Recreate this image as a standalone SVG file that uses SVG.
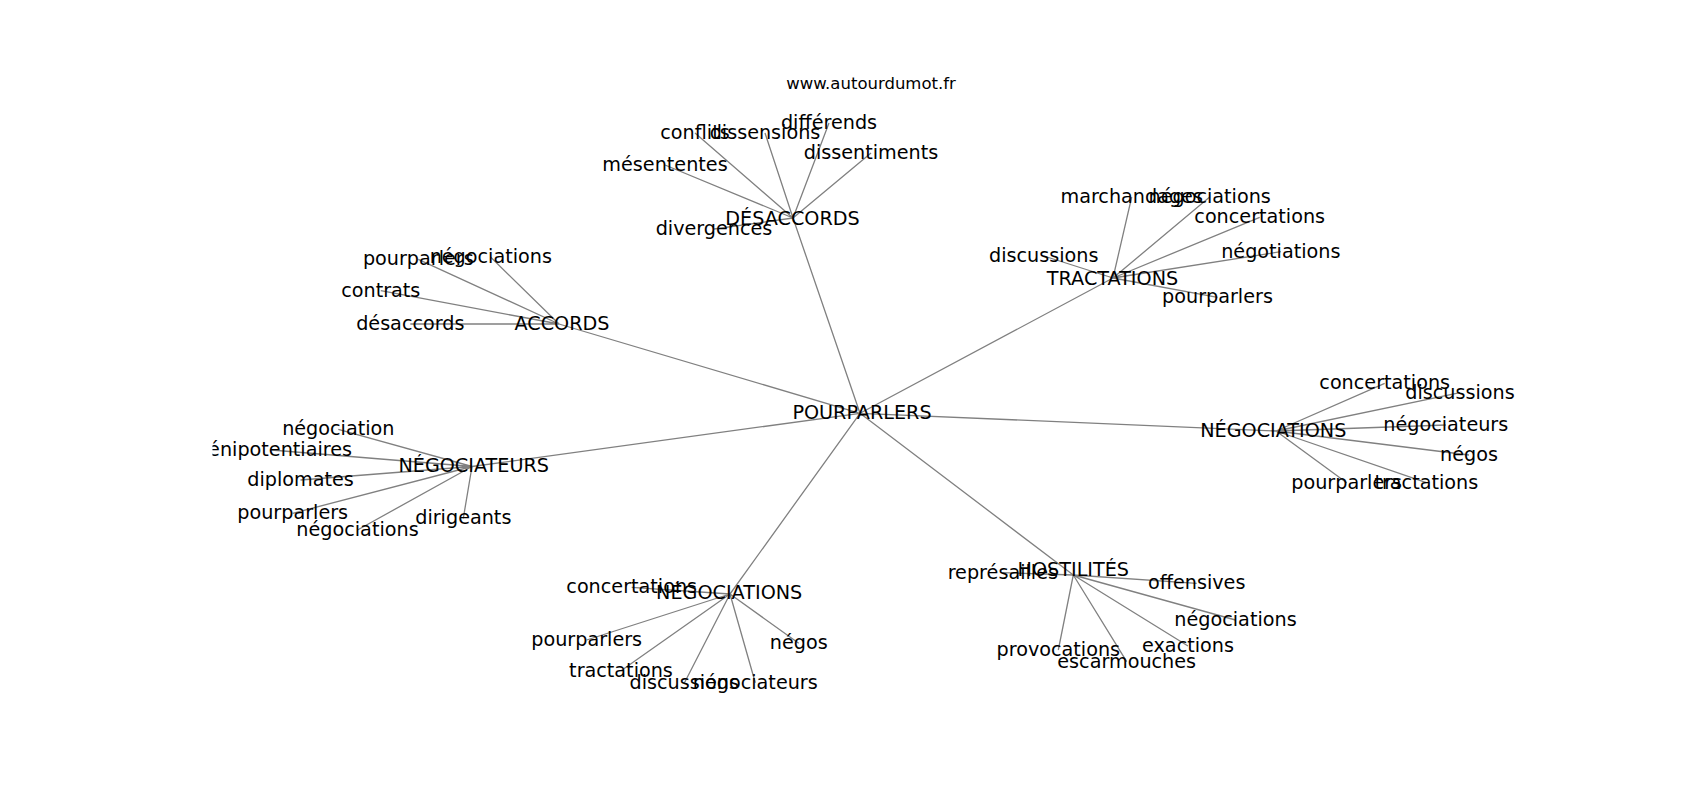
<svg xmlns="http://www.w3.org/2000/svg" width="1700" height="800" viewBox="0 0 1700 800">
<style>
.e{stroke:#808080;stroke-width:1.3;fill:none}
.l{font-family:"DejaVu Sans",sans-serif;font-size:19.2px;fill:#000;text-anchor:middle}
.t{font-family:"DejaVu Sans",sans-serif;font-size:16.5px;fill:#000;text-anchor:middle}
</style>
<defs><clipPath id="ax"><rect x="212.5" y="96" width="1317.5" height="616"/></clipPath></defs>
<rect width="1700" height="800" fill="#fff"/>
<text class="t" x="871" y="89">www.autourdumot.fr</text>
<g id="edges" clip-path="url(#ax)">
<path class="e" d="M860,413.3L793,218M860,413.3L1113,278M860,413.3L559,324M860,413.3L472,466.5M860,413.3L1276,431M860,413.3L730,594M860,413.3L1073.3,575"/>
<path class="e" d="M793,218L695,133M793,218L765,133M793,218L829,123M793,218L871,153M793,218L665,165M793,218L714,229"/>
<path class="e" d="M1113,278L1131.7,197M1113,278L1209.7,197M1113,278L1259.7,217.3M1113,278L1043.8,256M1113,278L1280.8,251.7M1113,278L1217.5,297.3"/>
<path class="e" d="M559,324L418.3,259.3M559,324L490.8,257.3M559,324L380.8,290.7M559,324L410.3,324"/>
<path class="e" d="M472,466.5L338.3,429.3M472,466.5L271.3,450M472,466.5L300.5,480M472,466.5L292.7,513.3M472,466.5L357.5,530M472,466.5L463.3,518.3"/>
<path class="e" d="M1276,431L1384.7,383.3M1276,431L1460,392.7M1276,431L1445.8,425M1276,431L1469,455M1276,431L1346.7,482.7M1276,431L1426.3,482.7"/>
<path class="e" d="M730,594L631.7,587.3M730,594L586.7,640M730,594L798.7,643.3M730,594L621,670.7M730,594L684.2,683.3M730,594L755.3,682.7"/>
<path class="e" d="M1073.3,575L1002.8,572.7M1073.3,575L1196.7,583.3M1073.3,575L1235.5,620M1073.3,575L1188,646M1073.3,575L1058.3,650M1073.3,575L1126.7,661.7"/>
</g>
<g id="labels" clip-path="url(#ax)">
<g id="n-pourparlers"><text class="l" x="862" y="419">POURPARLERS</text></g>
<g id="n-desaccords"><text class="l" x="792.5" y="225">DÉSACCORDS</text></g>
<g id="n-desaccords-conflits"><text class="l" x="695" y="139">conflits</text></g>
<g id="n-desaccords-dissensions"><text class="l" x="765" y="139">dissensions</text></g>
<g id="n-desaccords-differends"><text class="l" x="829" y="129">différends</text></g>
<g id="n-desaccords-dissentiments"><text class="l" x="871" y="159">dissentiments</text></g>
<g id="n-desaccords-mesententes"><text class="l" x="665" y="171">mésententes</text></g>
<g id="n-desaccords-divergences"><text class="l" x="714" y="235">divergences</text></g>
<g id="n-tractations"><text class="l" x="1112.5" y="285">TRACTATIONS</text></g>
<g id="n-tractations-marchandages"><text class="l" x="1131.7" y="203">marchandages</text></g>
<g id="n-tractations-negociations"><text class="l" x="1209.7" y="203">négociations</text></g>
<g id="n-tractations-concertations"><text class="l" x="1259.7" y="223">concertations</text></g>
<g id="n-tractations-discussions"><text class="l" x="1043.8" y="262">discussions</text></g>
<g id="n-tractations-negotiations"><text class="l" x="1280.8" y="258">négotiations</text></g>
<g id="n-tractations-pourparlers"><text class="l" x="1217.5" y="303">pourparlers</text></g>
<g id="n-accords"><text class="l" x="562" y="330">ACCORDS</text></g>
<g id="n-accords-pourparlers"><text class="l" x="418.3" y="265">pourparlers</text></g>
<g id="n-accords-negociations"><text class="l" x="490.8" y="263">négociations</text></g>
<g id="n-accords-contrats"><text class="l" x="380.8" y="297">contrats</text></g>
<g id="n-accords-desaccords"><text class="l" x="410.3" y="330">désaccords</text></g>
<g id="n-negociateurs"><text class="l" x="473.7" y="472">NÉGOCIATEURS</text></g>
<g id="n-negociateurs-negociation"><text class="l" x="338.3" y="435">négociation</text></g>
<g id="n-negociateurs-plenipotentiaires"><text class="l" x="271.3" y="456">plénipotentiaires</text></g>
<g id="n-negociateurs-diplomates"><text class="l" x="300.5" y="486">diplomates</text></g>
<g id="n-negociateurs-pourparlers"><text class="l" x="292.7" y="519">pourparlers</text></g>
<g id="n-negociateurs-negociations"><text class="l" x="357.5" y="536">négociations</text></g>
<g id="n-negociateurs-dirigeants"><text class="l" x="463.3" y="524">dirigeants</text></g>
<g id="n-negociations-r"><text class="l" x="1273.3" y="437">NÉGOCIATIONS</text></g>
<g id="n-negociations-r-concertations"><text class="l" x="1384.7" y="389">concertations</text></g>
<g id="n-negociations-r-discussions"><text class="l" x="1460" y="399">discussions</text></g>
<g id="n-negociations-r-negociateurs"><text class="l" x="1445.8" y="431">négociateurs</text></g>
<g id="n-negociations-r-negos"><text class="l" x="1469" y="461">négos</text></g>
<g id="n-negociations-r-pourparlers"><text class="l" x="1346.7" y="489">pourparlers</text></g>
<g id="n-negociations-r-tractations"><text class="l" x="1426.3" y="489">tractations</text></g>
<g id="n-negociations-b"><text class="l" x="729.2" y="599">NÉGOCIATIONS</text></g>
<g id="n-negociations-b-concertations"><text class="l" x="631.7" y="593">concertations</text></g>
<g id="n-negociations-b-pourparlers"><text class="l" x="586.7" y="646">pourparlers</text></g>
<g id="n-negociations-b-negos"><text class="l" x="798.7" y="649">négos</text></g>
<g id="n-negociations-b-tractations"><text class="l" x="621" y="677">tractations</text></g>
<g id="n-negociations-b-discussions"><text class="l" x="684.2" y="689">discussions</text></g>
<g id="n-negociations-b-negociateurs"><text class="l" x="755.3" y="689">négociateurs</text></g>
<g id="n-hostilites"><text class="l" x="1073.3" y="576">HOSTILITÉS</text></g>
<g id="n-hostilites-represailles"><text class="l" x="1002.8" y="579">représailles</text></g>
<g id="n-hostilites-offensives"><text class="l" x="1196.7" y="589">offensives</text></g>
<g id="n-hostilites-negociations"><text class="l" x="1235.5" y="626">négociations</text></g>
<g id="n-hostilites-exactions"><text class="l" x="1188" y="652">exactions</text></g>
<g id="n-hostilites-provocations"><text class="l" x="1058.3" y="656">provocations</text></g>
<g id="n-hostilites-escarmouches"><text class="l" x="1126.7" y="668">escarmouches</text></g>
</g>
</svg>
